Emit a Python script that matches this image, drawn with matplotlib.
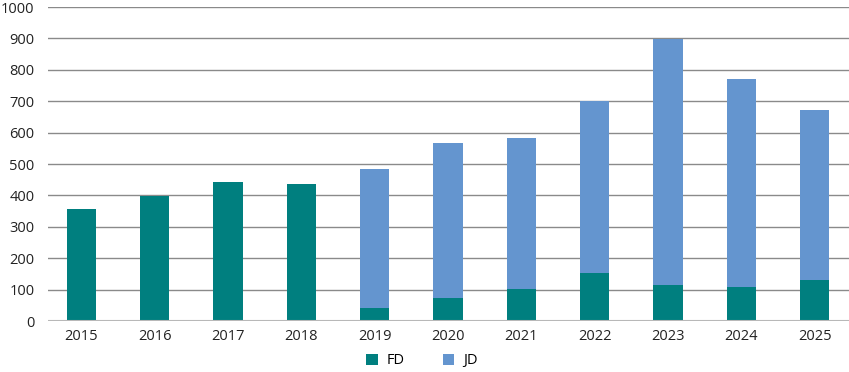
import numpy as np
import matplotlib.pyplot as plt

years = ['2015', '2016', '2017', '2018', '2019', '2020', '2021', '2022', '2023', '2024', '2025']
fd = [357, 397, 444, 436, 41, 74, 102, 153, 115, 109, 131]
total = [357, 397, 444, 436, 485, 566, 583, 702, 898, 771, 672]
jd = [t - f for t, f in zip(total, fd)]

plt.rcParams['font.family'] = ['Open Sans', 'DejaVu Sans']

fig = plt.figure(figsize=(8.49, 3.72), dpi=100)
ax = fig.add_axes([0.057, 0.137, 0.95, 0.844])

x = np.arange(len(years))
ax.bar(x, fd, width=0.4, color='#007f7f', label='FD', zorder=3)
ax.bar(x, jd, width=0.4, bottom=fd, color='#6495cf', label='JD', zorder=3)

ax.set_ylim(0, 1000)
ax.set_xlim(-0.45, 10.55)
ax.set_yticks(np.arange(0, 1001, 100))
ax.set_xticks(x)
ax.set_xticklabels(years)
ax.yaxis.grid(True, color='#8a8a8a', linewidth=1, zorder=0)
ax.axhline(0, color='#b8b8b8', linewidth=1.5, zorder=4)
for s in ax.spines.values():
    s.set_visible(False)
ax.tick_params(length=0, labelsize=10.5, colors='#222222')
ax.tick_params(axis='y', pad=10)
ax.tick_params(axis='x', pad=6)

fig.legend(loc='center', bbox_to_anchor=(0.497, 0.03), ncol=2, frameon=False,
           fontsize=10.5, handlelength=0.8, handleheight=0.8, columnspacing=2.6,
           handletextpad=0.6)

fig.savefig('out.png', dpi=100)
